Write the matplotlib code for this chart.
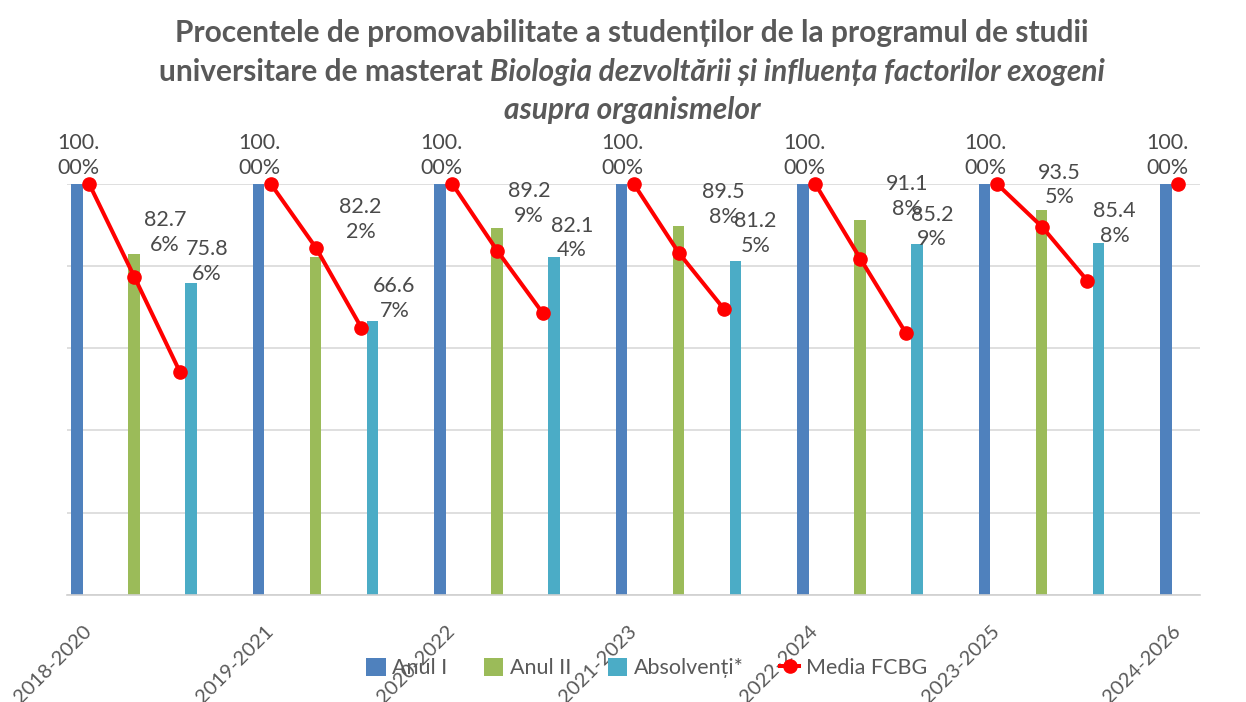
import numpy as np
import matplotlib
matplotlib.use("Agg")
import matplotlib.pyplot as plt

# data
years = ["2018-2020", "2019-2021", "2020-2022", "2021-2023", "2022-2024", "2023-2025", "2024-2026"]
anul_1 = [100.00, 100.00, 100.00, 100.00, 100.00, 100.00, 100.00]
anul_2 = [82.76, 82.22, 89.29, 89.58, 91.18, 93.55, np.nan]
absolventi = [75.86, 66.67, 82.14, 81.25, 85.29, 85.48, np.nan]
media_1 = [100.0, 100.0, 100.0, 100.0, 100.0, 100.0, 100.0]
media_2 = [77.3, 84.4, 83.6, 83.1, 81.7, 89.5, np.nan]
media_3 = [54.3, 65.0, 68.5, 69.4, 63.7, 76.4, np.nan]

# label placement tweaks (pixels), Excel put them a bit everywhere
off_2 = [(31, 22), (45, 37), (32, 24), (45, 22), (47, 23), (18, 25)]
off_3 = [(16, 21), (22, 22), (18, 19), (20, 27), (15, 17), (16, 20)]

C_BLUE = "#4F81BD"
C_GREEN = "#9BBB59"
C_CYAN = "#4BACC6"
C_RED = "#FF0000"
C_TXT = "#4a4a4a"
FONT = "Lato"

plt.rcParams["font.family"] = [FONT, "DejaVu Sans"]

fig = plt.figure(figsize=(12.46, 7.02), dpi=100)
ax = fig.add_axes([0.0538, 0.1524, 0.9093, 0.5862])

x = np.arange(len(years))
w = 0.064
b1 = ax.bar(x, anul_1, w, color=C_BLUE, label="Anul I", zorder=2)
b2 = ax.bar(x + 0.314, anul_2, w, color=C_GREEN, label="Anul II", zorder=2)
b3 = ax.bar(x + 0.628, absolventi, w, color=C_CYAN, label="Absolvenți*", zorder=2)

# red line: one short segment per generation
for i in range(len(years)):
    xs = [i + 0.066, i + 0.316, i + 0.566]
    ys = [media_1[i], media_2[i], media_3[i]]
    ln, = ax.plot(xs, ys, color=C_RED, lw=2.9, marker="o", ms=9.5, zorder=4,
                  clip_on=False)
    if i == 0:
        red = ln


def lab(v):
    s = "{:.2f}%".format(v)
    return s[:4] + "\n" + s[4:]


kw = dict(textcoords="offset pixels", ha="center", va="center", fontsize=15.5,
          color=C_TXT, linespacing=1.3, zorder=5, annotation_clip=False)
for i in range(len(years)):
    ax.annotate(lab(anul_1[i]), (x[i], anul_1[i]), xytext=(1, 28), **kw)
    if not np.isnan(anul_2[i]):
        ax.annotate(lab(anul_2[i]), (x[i] + 0.314, anul_2[i]), xytext=off_2[i], **kw)
        ax.annotate(lab(absolventi[i]), (x[i] + 0.628, absolventi[i]), xytext=off_3[i], **kw)

ax.set_ylim(0, 100)
ax.set_xlim(-0.055, 6.187)
ax.set_yticks(np.arange(0, 101, 20))
ax.set_yticklabels([])
ax.yaxis.grid(True, color="#d9d9d9", lw=1.2, zorder=0)
ax.set_axisbelow(True)
ax.tick_params(axis="y", length=0)
for s in ["top", "right", "left"]:
    ax.spines[s].set_visible(False)
ax.spines["bottom"].set_color("#d0d0d0")
ax.spines["bottom"].set_linewidth(1.2)

ax.set_xticks(x + 0.066)
ax.set_xticklabels(years, rotation=45, ha="right", va="center",
                   rotation_mode="anchor", fontsize=14.5, color="#595959")
ax.tick_params(axis="x", length=0, pad=24)

fig.legend([b1, b2, b3, red], ["Anul I", "Anul II", "Absolvenți*", "Media FCBG"],
           loc="center", bbox_to_anchor=(0.519, 0.048), ncol=4, frameon=False,
           fontsize=15.5, handlelength=0.9, handleheight=0.9, handletextpad=0.3,
           columnspacing=1.7, labelcolor="#595959")

# title, middle line mixes normal and italic text
tk = dict(fontsize=21.5, fontweight="bold", color="#595959", va="center")
cx = 632 / 1246
fig.text(cx, 1 - 33 / 702, "Procentele de promovabilitate a studenților de la programul de studii",
         ha="center", **tk)
fig.text(cx, 1 - 110 / 702, "asupra organismelor", ha="center", style="italic", **tk)
r = fig.canvas.get_renderer()
t1 = fig.text(0, 1 - 72 / 702, "universitare de masterat ", ha="left", **tk)
t2 = fig.text(0, 1 - 72 / 702, "Biologia dezvoltării și influența factorilor exogeni",
              ha="left", style="italic", **tk)
w1 = t1.get_window_extent(r).width / fig.bbox.width
w2 = t2.get_window_extent(r).width / fig.bbox.width
t1.set_x(cx - (w1 + w2) / 2)
t2.set_x(cx - (w1 + w2) / 2 + w1)

fig.savefig("out.png", dpi=100)
